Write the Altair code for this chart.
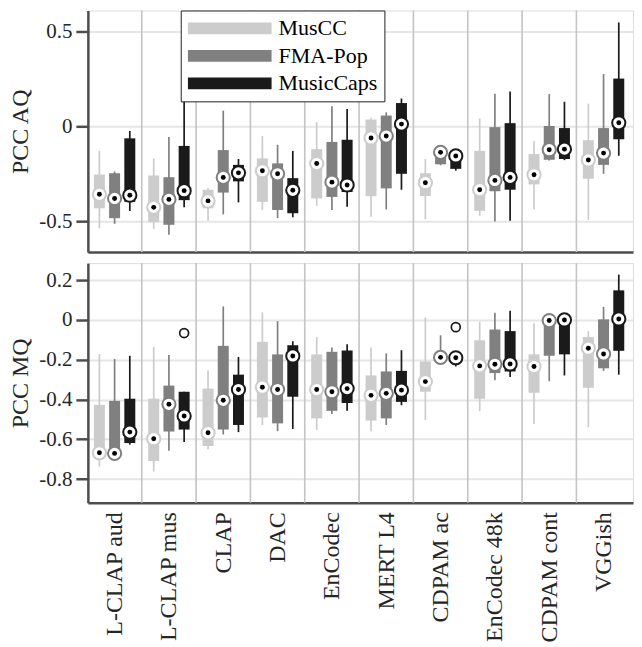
import altair as alt
import pandas as pd

models = ["L-CLAP aud", "L-CLAP mus", "CLAP", "DAC", "EnCodec", "MERT L4",
          "CDPAM ac", "EnCodec 48k", "CDPAM cont", "VGGish"]
datasets = ["MusCC", "FMA-Pop", "MusicCaps"]
colors = ["#cccccc", "#808080", "#1a1a1a"]

# ---- PCC AQ (rows: MusCC, FMA-Pop, MusicCaps; columns: models) ----
aq_lo = [
    [-0.537, -0.540, -0.498, -0.441, -0.419, -0.476, -0.490, -0.471, -0.438, -0.493],
    [-0.514, -0.571, -0.464, -0.484, -0.441, -0.438, -0.205, -0.502, -0.180, -0.250],
    [-0.446, -0.427, -0.401, -0.479, -0.424, -0.334, -0.233, -0.497, -0.178, -0.155],
]
aq_q1 = [
    [-0.432, -0.505, -0.432, -0.398, -0.380, -0.368, -0.367, -0.445, -0.306, -0.276],
    [-0.484, -0.519, -0.349, -0.441, -0.372, -0.327, -0.200, -0.342, -0.176, -0.203],
    [-0.398, -0.389, -0.290, -0.458, -0.346, -0.250, -0.224, -0.334, -0.172, -0.068],
]
aq_med = [
    [-0.358, -0.427, -0.393, -0.234, -0.196, -0.061, -0.297, -0.334, -0.255, -0.177],
    [-0.380, -0.385, -0.269, -0.250, -0.294, -0.051, -0.137, -0.285, -0.123, -0.141],
    [-0.363, -0.339, -0.245, -0.337, -0.309, 0.012, -0.156, -0.269, -0.120, 0.019],
]
aq_q3 = [
    [-0.254, -0.259, -0.334, -0.169, -0.120, 0.036, -0.247, -0.129, -0.146, -0.073],
    [-0.247, -0.268, -0.125, -0.195, -0.082, 0.057, -0.117, -0.004, 0.002, -0.009],
    [-0.063, -0.103, -0.203, -0.273, -0.071, 0.123, -0.129, 0.017, -0.009, 0.252],
]
aq_hi = [
    [-0.129, -0.169, -0.325, -0.051, 0.022, 0.045, -0.172, 0.042, -0.077, 0.120],
    [-0.238, -0.056, 0.083, -0.097, 0.106, 0.074, -0.110, 0.172, 0.170, 0.276],
    [-0.024, 0.184, -0.172, -0.129, 0.092, 0.147, -0.125, 0.184, 0.130, 0.548],
]

# ---- PCC MQ ----
mq_lo = [
    [-0.737, -0.762, -0.650, -0.528, -0.553, -0.559, -0.503, -0.459, -0.523, -0.540],
    [-0.700, -0.658, -0.576, -0.559, -0.473, -0.528, -0.210, -0.303, -0.308, -0.256],
    [-0.627, -0.614, -0.564, -0.548, -0.457, -0.429, -0.234, -0.287, -0.279, -0.275],
]
mq_q1 = [
    [-0.696, -0.709, -0.634, -0.490, -0.495, -0.506, -0.361, -0.396, -0.366, -0.341],
    [-0.690, -0.561, -0.551, -0.520, -0.457, -0.495, -0.200, -0.267, -0.180, -0.243],
    [-0.619, -0.551, -0.528, -0.386, -0.417, -0.412, -0.215, -0.259, -0.173, -0.155],
]
mq_med = [
    [-0.668, -0.597, -0.567, -0.338, -0.350, -0.379, -0.310, -0.231, -0.234, -0.142],
    [-0.671, -0.424, -0.404, -0.350, -0.361, -0.369, -0.188, -0.223, -0.003, -0.171],
    [-0.564, -0.483, -0.350, -0.181, -0.345, -0.353, -0.190, -0.221, 0.000, 0.005],
]
mq_q3 = [
    [-0.427, -0.396, -0.345, -0.110, -0.173, -0.279, -0.209, -0.102, -0.173, -0.086],
    [-0.407, -0.330, -0.130, -0.173, -0.160, -0.259, -0.170, -0.048, 0.017, 0.003],
    [-0.396, -0.361, -0.275, -0.127, -0.153, -0.256, -0.170, -0.056, 0.013, 0.149],
]
mq_hi = [
    [-0.171, -0.135, -0.254, 0.038, -0.086, -0.139, 0.013, -0.011, -0.016, -0.056],
    [-0.196, -0.176, 0.068, -0.006, -0.139, -0.168, -0.077, 0.036, 0.020, 0.066],
    [-0.180, -0.361, -0.186, -0.107, -0.122, -0.152, -0.170, 0.046, 0.020, 0.228],
]

# outliers (model index, dataset index, value)
mq_out_model = [1, 6]
mq_out_set = [2, 2]
mq_out_val = [-0.066, -0.036]
aq_out_model = []
aq_out_set = []
aq_out_val = []

FONT = "Liberation Serif"
TXT = "#262626"
AX = "#4d4d4d"


def long_df(lo, q1, med, q3, hi):
    rows = []
    for di, ds in enumerate(datasets):
        for mi in range(len(models)):
            rows.append(dict(mi=mi, di=di, dataset=ds, lo=lo[di][mi], q1=q1[di][mi],
                             med=med[di][mi], q3=q3[di][mi], hi=hi[di][mi]))
    return pd.DataFrame(rows)


def out_df(mi, di, val):
    return pd.DataFrame(dict(mi=mi, di=di, dataset=[datasets[d] for d in di], val=val))


label_expr = "[" + ",".join("'" + m + "'" for m in models) + "][datum.value]"
y_label_expr = ("abs(datum.value) < 1e-9 ? '0' : (datum.value < 0 ? '-' : '') + "
                "format(abs(datum.value), '.1f')")

xscale = alt.Scale(domain=[-0.4, 9.45], nice=False, zero=False)
color_scale = alt.Scale(domain=datasets, range=colors)

legend = alt.Legend(
    orient="none", legendX=93, legendY=0, title=None,
    symbolType="M-1,-0.14L1,-0.14L1,0.14L-1,0.14Z", symbolSize=7056,
    symbolStrokeWidth=0, symbolOpacity=1, clipHeight=22, rowPadding=5.5,
    labelFont=FONT, labelFontSize=22, labelColor="black", labelOffset=7,
    padding=7, strokeColor="#222222", fillColor="white",
)


def panel(df, odf, ytitle, ydomain, yvals, bottom, height):
    if bottom:
        xaxis = alt.Axis(values=list(range(len(models))), labelExpr=label_expr,
                         labelAngle=270, labelFont=FONT, labelFontSize=24,
                         labelColor=TXT, labelPadding=9, ticks=False, grid=False,
                         domainColor=AX, domainWidth=2.5, title=None)
    else:
        xaxis = alt.Axis(labels=False, ticks=False, grid=False, domainColor=AX,
                         domainWidth=2.5, title=None)
    yaxis = alt.Axis(values=yvals, labelExpr=y_label_expr, labelFont=FONT,
                     labelFontSize=21, labelColor=TXT, labelPadding=4, tickSize=12,
                     tickWidth=2.5, tickColor=AX, domainColor=AX, domainWidth=2.5,
                     grid=True, gridColor="#e6e6e6", gridWidth=2, title=ytitle,
                     titleFont=FONT, titleFontSize=24, titleFontWeight="normal",
                     titleColor=TXT, titlePadding=6)
    yscale = alt.Scale(domain=ydomain, nice=False, zero=False)

    base = alt.Chart(df).transform_calculate(pos="datum.mi + (datum.di - 1) * 0.28")

    seps = alt.Chart(pd.DataFrame({"mi": list(range(len(models)))})).transform_filter(
        "datum.mi < %d" % (len(models) - 1)
    ).transform_calculate(sep="datum.mi + 0.5").mark_rule(
        color="#c4c4c4", strokeWidth=1.6
    ).encode(x=alt.X("sep:Q", scale=xscale, axis=xaxis))

    stroke_enc = alt.Stroke("dataset:N", scale=color_scale, legend=legend)

    whisk = base.mark_rule(strokeWidth=1.7).encode(
        x=alt.X("pos:Q", scale=xscale, axis=xaxis),
        y=alt.Y("lo:Q", scale=yscale, axis=yaxis),
        y2="hi:Q",
        stroke=stroke_enc,
    )
    box = base.mark_bar(size=11).encode(
        x=alt.X("pos:Q", scale=xscale, axis=xaxis),
        y=alt.Y("q1:Q", scale=yscale, axis=yaxis),
        y2="q3:Q",
        color=alt.Color("dataset:N", scale=color_scale, legend=legend),
    )
    ring = base.mark_point(shape="circle", filled=True, fill="white", size=175,
                           strokeWidth=2, opacity=1).encode(
        x=alt.X("pos:Q", scale=xscale, axis=xaxis),
        y=alt.Y("med:Q", scale=yscale, axis=yaxis),
        stroke=stroke_enc,
    )
    dot = base.mark_point(shape="circle", filled=True, color="black", size=24,
                          opacity=1).encode(
        x=alt.X("pos:Q", scale=xscale, axis=xaxis),
        y=alt.Y("med:Q", scale=yscale, axis=yaxis),
    )
    layers = [seps, whisk, box, ring, dot]
    if len(odf):
        outl = alt.Chart(odf).transform_calculate(
            pos="datum.mi + (datum.di - 1) * 0.28"
        ).mark_point(shape="circle", filled=False, size=80, strokeWidth=1.7,
                     opacity=1).encode(
            x=alt.X("pos:Q", scale=xscale, axis=xaxis),
            y=alt.Y("val:Q", scale=yscale, axis=yaxis),
            stroke=stroke_enc,
        )
        layers.append(outl)
    return alt.layer(*layers).properties(width=546, height=height)


top = panel(long_df(aq_lo, aq_q1, aq_med, aq_q3, aq_hi),
            out_df(aq_out_model, aq_out_set, aq_out_val),
            "PCC AQ", [-0.663, 0.611], [0.5, 0, -0.5], False, 242)
bot = panel(long_df(mq_lo, mq_q1, mq_med, mq_q3, mq_hi),
            out_df(mq_out_model, mq_out_set, mq_out_val),
            "PCC MQ", [-0.919, 0.286], [0.2, 0, -0.2, -0.4, -0.6, -0.8], True, 240)

chart = alt.vconcat(top, bot, spacing=7).properties(
    padding={"left": 0, "top": 0, "right": 0, "bottom": 0}
).configure_view(stroke=None).configure_legend(
    labelFont=FONT, labelFontSize=22, labelColor="black"
).configure(background="white")

chart.save("out.html", embed_options={"renderer": "svg", "actions": False})
